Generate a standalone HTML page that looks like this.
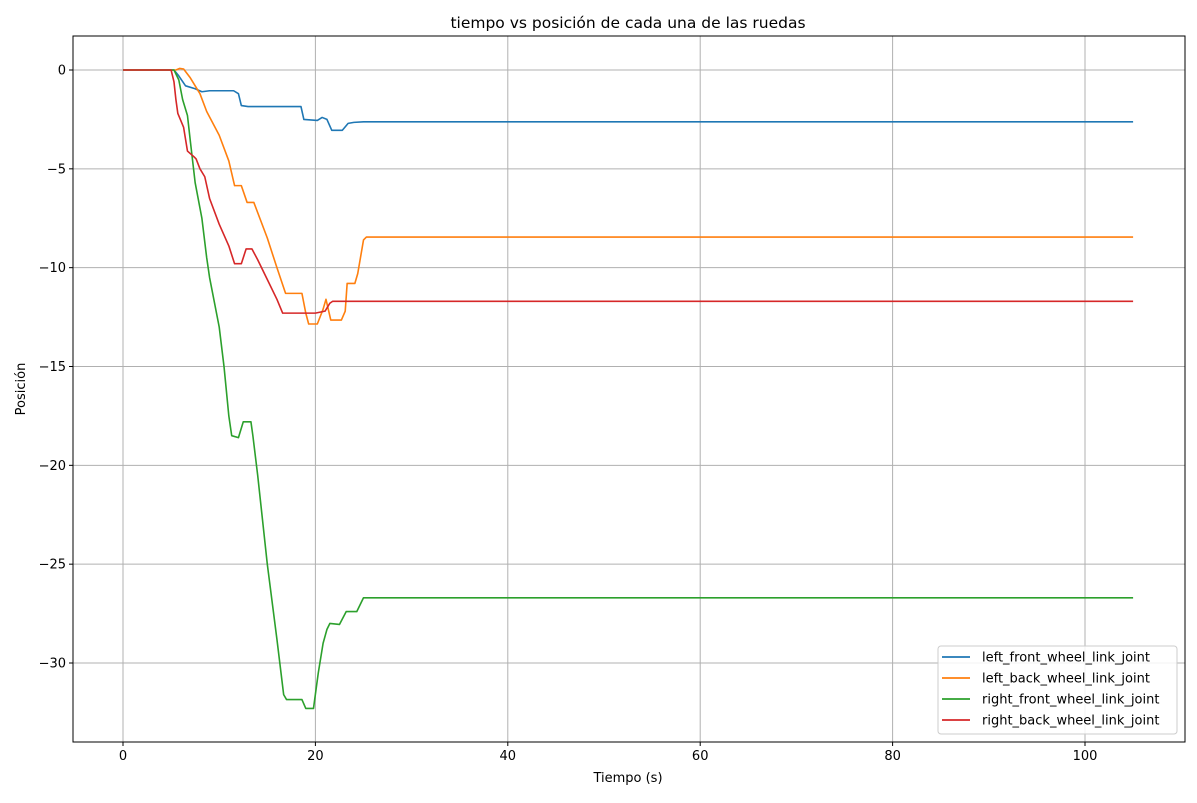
<!DOCTYPE html>
<html><head><meta charset="utf-8"><style>
body{margin:0;background:#fff;font-family:"Liberation Sans","DejaVu Sans",sans-serif}
svg text{font-family:"DejaVu Sans","Liberation Sans",sans-serif;font-size:13px;fill:#000}
</style></head><body>
<svg id="chart" width="1197" height="798">
<rect width="1197" height="798" fill="#fff"/>
<text x="628" y="28" text-anchor="middle" font-size="15.5" style="font-size:15.5px">tiempo vs posición de cada una de las ruedas</text>
<g id="grid"></g><g id="series"></g>
<rect x="73" y="36" width="1112" height="706" fill="none" stroke="#000" stroke-width="1"/>
<g id="ticks"></g>
<text x="628" y="782" text-anchor="middle">Tiempo (s)</text>
<text transform="translate(25,389) rotate(-90)" text-anchor="middle">Posición</text>
<g id="legend"></g>
</svg>
<script>
const xTicks=[0,20,40,60,80,100];
const yTicks=[0,-5,-10,-15,-20,-25,-30];
const seriesNames=["left_front_wheel_link_joint","left_back_wheel_link_joint","right_front_wheel_link_joint","right_back_wheel_link_joint"];
const seriesColors=["#1f77b4","#ff7f0e","#2ca02c","#d62728"];
const leftFront=[[0,0],[5.3,0],[5.8,-0.3],[6.5,-0.8],[7.5,-0.95],[8.2,-1.1],[9,-1.05],[11.5,-1.05],[12,-1.2],[12.3,-1.8],[13,-1.85],[18.5,-1.85],[18.8,-2.5],[20.2,-2.55],[20.7,-2.4],[21.2,-2.5],[21.7,-3.05],[22.8,-3.05],[23.4,-2.7],[24,-2.65],[25,-2.62],[105,-2.62]];
const leftBack=[[0,0],[5.5,0],[5.9,0.08],[6.3,0.05],[7,-0.4],[8,-1.2],[8.7,-2.1],[10,-3.3],[11,-4.6],[11.6,-5.85],[12.3,-5.85],[12.9,-6.7],[13.6,-6.7],[15,-8.5],[16,-10],[16.9,-11.3],[18.6,-11.3],[19,-12.3],[19.3,-12.85],[20.2,-12.85],[20.8,-12.1],[21.1,-11.6],[21.6,-12.65],[22.7,-12.65],[23.1,-12.2],[23.3,-10.8],[24.1,-10.8],[24.4,-10.3],[25,-8.6],[25.3,-8.45],[105,-8.45]];
const rightFront=[[0,0],[5.3,0],[5.8,-0.5],[6.2,-1.5],[6.7,-2.3],[7,-3.6],[7.5,-5.7],[8.2,-7.5],[8.7,-9.5],[9,-10.5],[10,-13],[10.5,-15],[11,-17.5],[11.3,-18.5],[12,-18.6],[12.5,-17.8],[13.3,-17.8],[13.5,-18.5],[14,-20.5],[15,-25],[16,-28.8],[16.7,-31.6],[17,-31.85],[18.6,-31.85],[19,-32.3],[19.8,-32.3],[20.3,-30.5],[20.8,-29],[21.2,-28.3],[21.5,-28],[22.5,-28.05],[23.2,-27.4],[24.3,-27.4],[25,-26.7],[105,-26.7]];
const rightBack=[[0,0],[5,0],[5.3,-0.6],[5.5,-1.5],[5.7,-2.2],[6.3,-2.9],[6.7,-4.1],[7.4,-4.4],[7.6,-4.5],[8,-5],[8.5,-5.4],[9,-6.5],[10,-7.8],[11,-8.9],[11.6,-9.8],[12.3,-9.8],[12.8,-9.05],[13.4,-9.05],[14,-9.6],[15,-10.6],[16,-11.6],[16.6,-12.3],[20,-12.3],[21,-12.2],[21.5,-11.8],[21.8,-11.7],[105,-11.7]];
const allSeries=[leftFront,leftBack,rightFront,rightBack];
const NS="http://www.w3.org/2000/svg";
function X(t){return 123+t*(1085-123)/100;}
function Y(v){return 70+(-v)*(663-70)/30;}
function mk(tag,attrs,parent){const e=document.createElementNS(NS,tag);for(const k in attrs)e.setAttribute(k,attrs[k]);parent.appendChild(e);return e;}
const grid=document.getElementById('grid'),ticks=document.getElementById('ticks');
xTicks.forEach(t=>{
 const g=mk('line',{x1:X(t),x2:X(t),y1:36,y2:742,stroke:'#b0b0b0','stroke-width':1},grid);
 
 
 mk('line',{x1:X(t),x2:X(t),y1:742,y2:746,stroke:'#000'},ticks);
 const tx=mk('text',{x:X(t),y:760,'text-anchor':'middle'},ticks);tx.textContent=t;
 
 
});
yTicks.forEach(v=>{
 const g=mk('line',{x1:73,x2:1185,y1:Y(v),y2:Y(v),stroke:'#b0b0b0','stroke-width':1},grid);
 
 
 mk('line',{x1:69,x2:73,y1:Y(v),y2:Y(v),stroke:'#000'},ticks);
 const tx=mk('text',{x:66,y:Y(v)+4.5,'text-anchor':'end'},ticks);tx.textContent=(v<0?'\u2212'+(-v):v);
 
 
});
const sg=document.getElementById('series');
allSeries.forEach((s,i)=>{
 const p=mk('polyline',{points:s.map(d=>X(d[0])+','+Y(d[1])).join(' '),fill:'none',stroke:seriesColors[i],'stroke-width':1.6,'stroke-linejoin':'round'},sg);
 
 
});
const lg=document.getElementById('legend');
const box=mk('rect',{x:938,y:646,width:239,height:88,rx:3,fill:'#fff','fill-opacity':0.85,stroke:'#ccc'},lg);


seriesNames.forEach((n,i)=>{
 const y=657+i*21;
 mk('line',{x1:942,x2:970,y1:y,y2:y,stroke:seriesColors[i],'stroke-width':1.8},lg);
 const t=mk('text',{x:982,y:y+4.5},lg);t.textContent=n;
 
 
});
</script>
</body></html>
